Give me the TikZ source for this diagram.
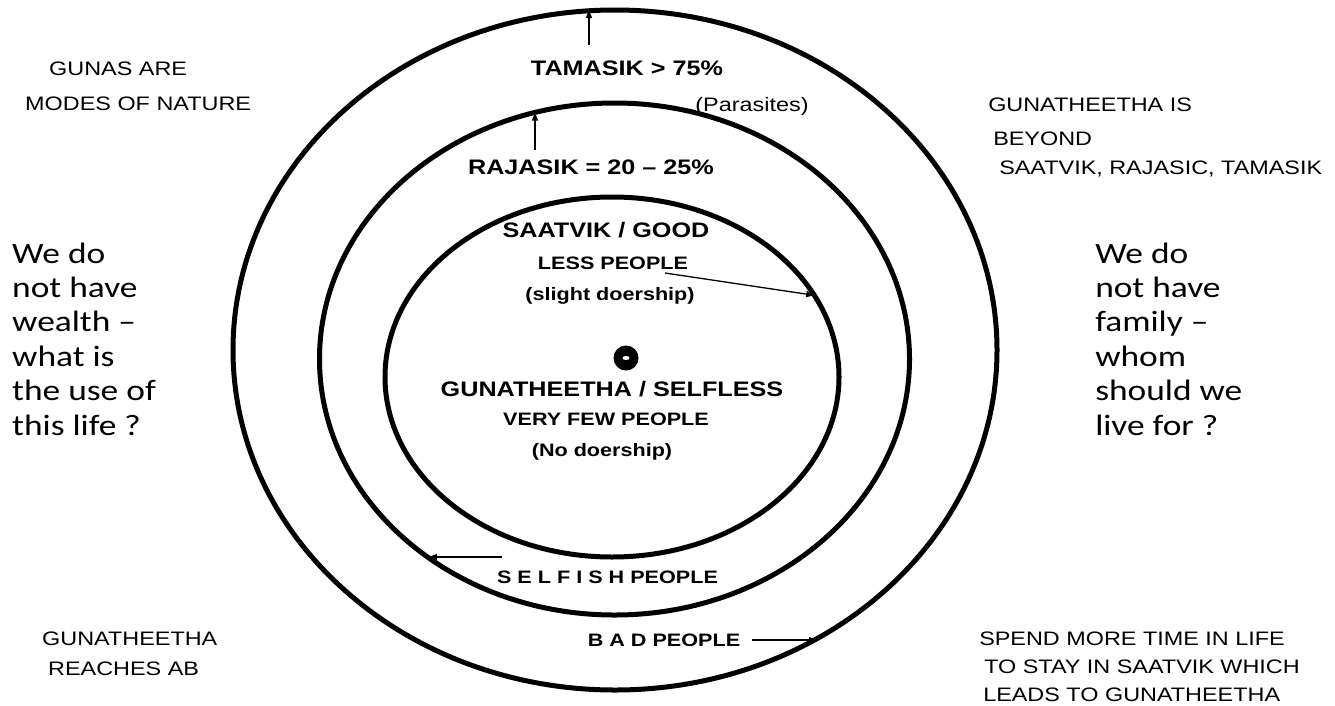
\documentclass[tikz,border=0pt]{standalone}
\usepackage{fontspec}
\setmainfont{Liberation Sans}
\newfontfamily\askfont{Carlito}
\usetikzlibrary{shapes.geometric, arrows.meta}

\begin{document}
\begin{tikzpicture}[x=1pt, y=-1pt,
    ring/.style={draw, ellipse, line width=5pt, inner sep=0pt, outer sep=0pt},
    note/.style={font=\fontsize{19.5}{22}\selectfont, xscale=1.2, anchor=base west, inner sep=0pt},
    title/.style={font=\bfseries\fontsize{21}{24}\selectfont, xscale=1.2, anchor=base, inner sep=0pt},
    sub/.style={font=\bfseries\fontsize{18}{20}\selectfont, xscale=1.2, anchor=base, inner sep=0pt},
    ask/.style={font=\askfont\fontsize{29.5}{34.4}\selectfont, xscale=1.2, align=left, anchor=base west, inner sep=0pt},
    pointer/.style={line width=1.3pt, -{Triangle[length=8pt,width=6pt]}}]
  \path[use as bounding box] (0,0) rectangle (1335,705);

  % the three rings
  \node[ring, minimum width=764pt, minimum height=680pt] (tamasring) at (615,350) {};
  \node[ring, minimum width=590pt, minimum height=512pt] (rajasring) at (614.5,359) {};
  \node[ring, minimum width=454pt, minimum height=360pt] (saatring) at (612,377) {};

  % centre dot
  \fill (626,358) circle (12.5);
  \fill[white] (626,358) ellipse (3.5 and 2);

  % ring labels
  \node[title] (tamlbl) at (627,75) {TAMASIK > 75\%};
  \node[note, anchor=base] (paralbl) at (752,111) {(Parasites)};
  \node[title] (rajlbl) at (591,174) {RAJASIK = 20 – 25\%};
  \node[title] (saatlbl) at (606,237) {SAATVIK / GOOD};
  \node[sub] (lesslbl) at (613,269) {LESS PEOPLE};
  \node[sub] (slightlbl) at (610,300) {(slight doership)};
  \node[title] (gunalbl) at (612,396) {GUNATHEETHA / SELFLESS};
  \node[sub] (fewlbl) at (606,425) {VERY FEW PEOPLE};
  \node[sub] (nolbl) at (602,456) {(No doership)};
  \node[sub] (selflbl) at (607.5,583) {S E L F I S H PEOPLE};
  \node[sub] (badlbl) at (664,646) {B A D PEOPLE};

  % side notes
  \node[note] (gunas) at (49,75) {GUNAS ARE};
  \node[note] (modes) at (25,110) {MODES OF NATURE};
  \node[note] (beyond1) at (988,111) {GUNATHEETHA IS};
  \node[note] (beyond2) at (993,145) {BEYOND};
  \node[note] (beyond3) at (999,174) {SAATVIK, RAJASIC, TAMASIK};
  \node[note] (reach1) at (42,645) {GUNATHEETHA};
  \node[note] (reach2) at (48,675) {REACHES AB};
  \node[note] (spend1) at (979,645) {SPEND MORE TIME IN LIFE};
  \node[note] (spend2) at (984,673) {TO STAY IN SAATVIK WHICH};
  \node[note] (spend3) at (983,701) {LEADS TO GUNATHEETHA};

  % questions (base = last line)
  \node[ask] (wealth) at (12,435) {We do\\not have\\wealth –\\what is\\the use of\\this life ?};
  \node[ask] (family) at (1095,435) {We do\\not have\\family –\\whom\\should we\\live for ?};

  % arrows
  \coordinate (tamtail) at (589,45);
  \coordinate (rajtail) at (535,150);
  \coordinate (saattail) at (665,273);
  \coordinate (selftail) at (502,557);
  \coordinate (badtail) at (752,640);
  \draw[pointer] (tamtail) -- (tamtail |- tamasring.north);
  \draw[pointer] (rajtail) -- (rajtail |- rajasring.108);
  \draw[pointer] (saattail) -- (saatring.22);
  \draw[pointer] (selftail) -- (selftail -| rajasring.227);
  \draw[pointer] (badtail) -- (badtail -| tamasring.305);
\end{tikzpicture}
\end{document}
